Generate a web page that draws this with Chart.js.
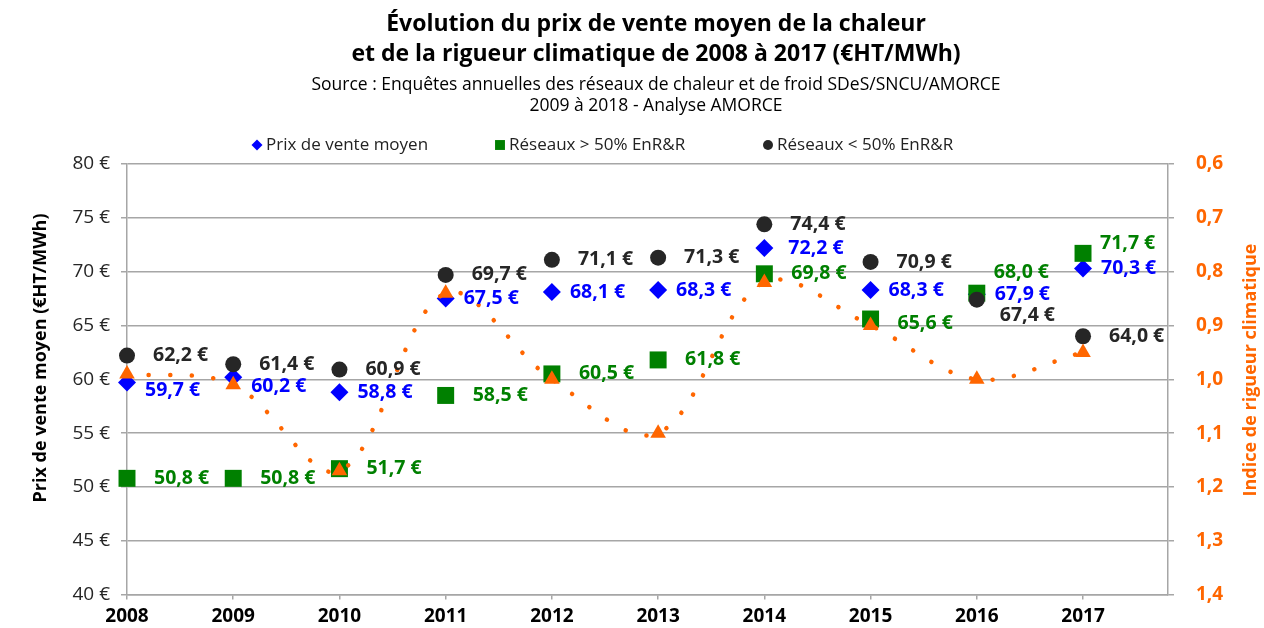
<!DOCTYPE html>
<html lang="fr">
<head>
<meta charset="utf-8">
<title>Prix de vente moyen de la chaleur et rigueur climatique</title>
<script src="https://cdn.jsdelivr.net/npm/chart.js@4.4.1/dist/chart.umd.min.js"></script>
<style>
  html, body { margin: 0; padding: 0; background: #fff; }
</style>
</head>
<body>
<canvas id="graphique" width="1264" height="628"></canvas>
<script>
const annees = [2008, 2009, 2010, 2011, 2012, 2013, 2014, 2015, 2016, 2017];
const prixMoyen = [59.7, 60.2, 58.8, 67.5, 68.1, 68.3, 72.2, 68.3, 67.9, 70.3];
const reseauxPlus50 = [50.8, 50.8, 51.7, 58.5, 60.5, 61.8, 69.8, 65.6, 68.0, 71.7];
const reseauxMoins50 = [62.2, 61.4, 60.9, 69.7, 71.1, 71.3, 74.4, 70.9, 67.4, 64.0];
const rigueur = [0.99, 1.01, 1.17, 0.84, 1.00, 1.10, 0.82, 0.90, 1.00, 0.95];

const ticksPrix = [40, 45, 50, 55, 60, 65, 70, 75, 80];
const ticksRigueur = [0.6, 0.7, 0.8, 0.9, 1.0, 1.1, 1.2, 1.3, 1.4];

const titre = [
  "Évolution du prix de vente moyen de la chaleur",
  "et de la rigueur climatique de 2008 à 2017 (€HT/MWh)"
];
const sousTitre = [
  "Source : Enquêtes annuelles des réseaux de chaleur et de froid SDeS/SNCU/AMORCE",
  "2009 à 2018 - Analyse AMORCE"
];
const titreGauche = "Prix de vente moyen (€HT/MWh)";
const titreDroite = "Indice de rigueur climatique";

const POLICE = '"Open Sans", "DejaVu Sans", sans-serif';
const BLEU = "#0000ff", VERT = "#008000", NOIR = "#262626", ORANGE = "#ff6600", GRIS = "#a6a6a6";

const points = serie => annees.map((a, i) => ({ x: a, y: serie[i] }));
const euro = v => v.toFixed(1).replace(".", ",") + " €";

// position des étiquettes : [dx, dy] par défaut puis cas particuliers
const decalages = [
  { base: [18, 0], cas: { 0: [18, 8], 1: [18, 9], 6: [24, 0] } },
  { base: [27, 0], cas: { 7: [27, 4], 8: [17, -21], 9: [17, -10] } },
  { base: [26, 0], cas: { 8: [23, 16] } }
];

const etiquettes = {
  id: "etiquettes",
  afterDatasetsDraw(chart) {
    const ctx = chart.ctx;
    ctx.save();
    ctx.font = "bold 19.5px " + POLICE;
    ctx.textAlign = "left";
    ctx.textBaseline = "middle";
    decalages.forEach((d, di) => {
      const ds = chart.data.datasets[di];
      const meta = chart.getDatasetMeta(di);
      ctx.fillStyle = ds.couleurTexte;
      meta.data.forEach((pt, i) => {
        const [dx, dy] = d.cas[i] || d.base;
        ctx.fillText(euro(ds.data[i].y), pt.x + dx, pt.y + dy);
      });
    });
    ctx.restore();
  }
};

const enTete = {
  id: "enTete",
  afterDraw(chart) {
    const ctx = chart.ctx;
    ctx.save();
    ctx.textAlign = "center";
    ctx.textBaseline = "middle";
    ctx.fillStyle = "#000";
    ctx.font = "bold 23px " + POLICE;
    titre.forEach((l, i) => ctx.fillText(l, 656, 24 + i * 30));
    ctx.font = "17.5px " + POLICE;
    sousTitre.forEach((l, i) => ctx.fillText(l, 656, 85 + i * 21));

    // titres des axes
    ctx.font = "bold 18px " + POLICE;
    ctx.save();
    ctx.translate(41, 358);
    ctx.rotate(-Math.PI / 2);
    ctx.fillText(titreGauche, 0, 0);
    ctx.restore();
    ctx.save();
    ctx.fillStyle = ORANGE;
    ctx.translate(1251, 370);
    ctx.rotate(-Math.PI / 2);
    ctx.fillText(titreDroite, 0, 0);
    ctx.restore();

    // légende
    const xs = [257, 500, 768];
    const tailles = [5.5, 7, 5];
    ctx.textAlign = "left";
    ctx.font = "17px " + POLICE;
    [0, 1, 2].forEach((di, k) => {
      const ds = chart.data.datasets[di];
      ctx.fillStyle = ds.backgroundColor;
      Chart.helpers.drawPoint(ctx, { pointStyle: ds.pointStyle, radius: tailles[k], borderWidth: 0 }, xs[k], 145);
      ctx.fillStyle = "#222";
      ctx.fillText(ds.label, xs[k] + 9, 145);
    });
    ctx.restore();
  }
};

new Chart(document.getElementById("graphique"), {
  type: "scatter",
  data: {
    datasets: [
      {
        label: "Prix de vente moyen",
        data: points(prixMoyen),
        pointStyle: "rectRot",
        pointRadius: 9,
        backgroundColor: BLEU,
        borderWidth: 0,
        couleurTexte: BLEU,
        yAxisID: "y",
        order: 3,
        clip: false
      },
      {
        label: "Réseaux > 50% EnR&R",
        data: points(reseauxPlus50),
        pointStyle: "rect",
        pointRadius: 12,
        backgroundColor: VERT,
        borderWidth: 0,
        couleurTexte: VERT,
        yAxisID: "y",
        order: 2,
        clip: false
      },
      {
        label: "Réseaux < 50% EnR&R",
        data: points(reseauxMoins50),
        pointStyle: "circle",
        pointRadius: 8,
        backgroundColor: NOIR,
        borderWidth: 0,
        couleurTexte: NOIR,
        yAxisID: "y",
        order: 1,
        clip: false
      },
      {
        type: "line",
        label: "Indice de rigueur climatique",
        data: points(rigueur),
        yAxisID: "y2",
        borderColor: ORANGE,
        backgroundColor: ORANGE,
        borderWidth: 4.5,
        borderDash: [0.1, 21.5],
        borderCapStyle: "round",
        tension: 0.35,
        pointStyle: "triangle",
        pointRadius: 9,
        pointBorderWidth: 0,
        pointBackgroundColor: ORANGE,
        order: 0,
        clip: false
      }
    ]
  },
  options: {
    responsive: false,
    devicePixelRatio: 1,
    animation: false,
    events: [],
    layout: { padding: { top: 164, left: 0, right: 0, bottom: 0 } },
    plugins: {
      legend: { display: false },
      tooltip: { enabled: false }
    },
    scales: {
      x: {
        type: "linear",
        min: 2008,
        max: 2017.8,
        afterBuildTicks: s => { s.ticks = annees.map(v => ({ value: v })); },
        afterFit: s => { s.height = 30; },
        grid: { drawOnChartArea: false, drawTicks: true, tickLength: 5, color: GRIS, lineWidth: 1.5 },
        border: { display: true, color: GRIS, width: 1.5 },
        ticks: {
          padding: 6,
          color: "#000",
          font: { family: POLICE, size: 19, weight: "bold" },
          callback: v => String(v),
          maxRotation: 0
        }
      },
      y: {
        position: "left",
        min: 40,
        max: 80,
        afterBuildTicks: s => { s.ticks = ticksPrix.map(v => ({ value: v })); },
        afterFit: s => { s.width = 127; },
        grid: { color: GRIS, lineWidth: 1.5, tickLength: 6 },
        border: { display: true, color: GRIS, width: 1.5 },
        ticks: {
          padding: 11,
          color: "#262626",
          font: { family: POLICE, size: 19 },
          callback: v => v + " €"
        }
      },
      y2: {
        position: "right",
        reverse: true,
        min: 0.6,
        max: 1.4,
        afterBuildTicks: s => { s.ticks = ticksRigueur.map(v => ({ value: v })); },
        afterFit: s => { s.width = 96; },
        grid: { drawOnChartArea: false, drawTicks: true, tickLength: 6, color: GRIS, lineWidth: 1.5 },
        border: { display: true, color: GRIS, width: 1.5 },
        ticks: {
          padding: 22,
          color: ORANGE,
          font: { family: POLICE, size: 19, weight: "bold" },
          callback: v => v.toFixed(1).replace(".", ",")
        }
      }
    }
  },
  plugins: [etiquettes, enTete]
});
</script>
</body>
</html>
